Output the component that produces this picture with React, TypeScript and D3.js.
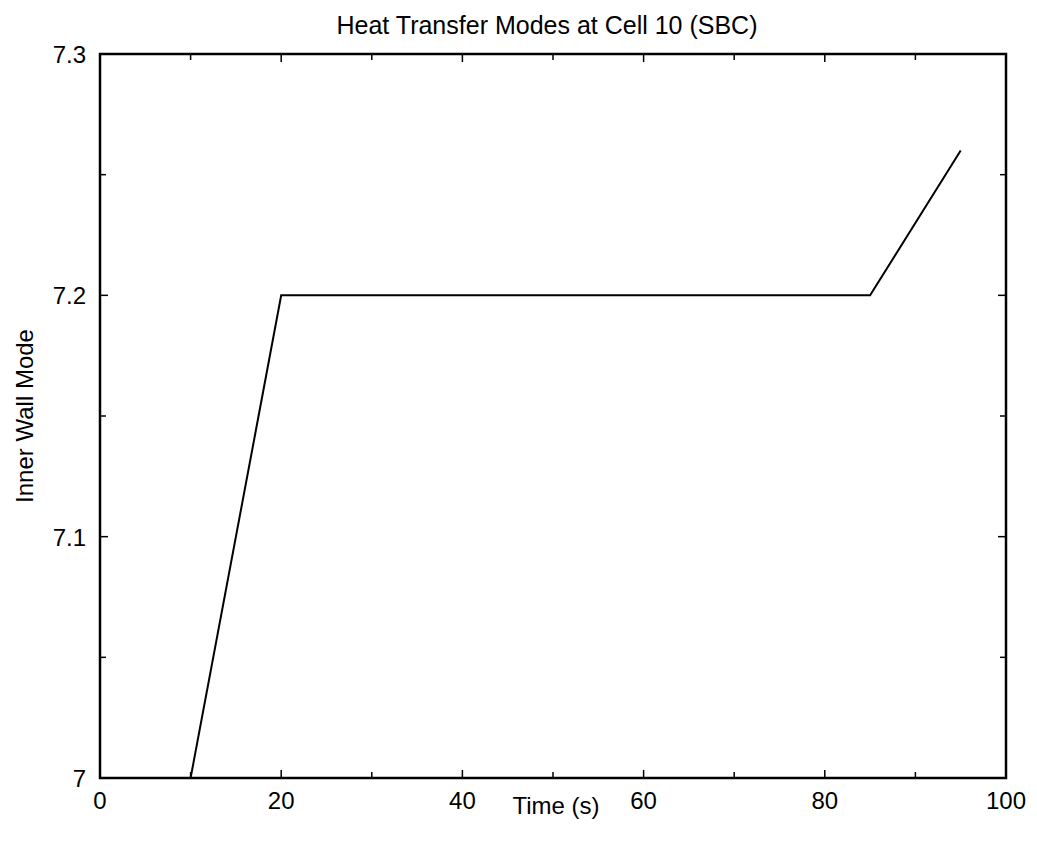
import React from "react";
import * as d3 from "d3";

const timeValues = [0, 10, 20, 85, 95];
const modeValues = [7, 7, 7.2, 7.2, 7.26];
const xMajorTicks = [0, 20, 40, 60, 80, 100];
const xMinorTicks = [10, 30, 50, 70, 90];
const yMajorTicks = [7, 7.1, 7.2, 7.3];
const yMinorTicks = [7.05, 7.15, 7.25];
const yTickLabels = ["7", "7.1", "7.2", "7.3"];
const title = "Heat Transfer Modes at Cell 10 (SBC)";
const xLabel = "Time (s)";
const yLabel = "Inner Wall Mode";

export default function App() {
  const W = 1037, H = 855;
  const L = 100, R = 1006, T = 54, B = 778;
  const x = d3.scaleLinear().domain([0, 100]).range([L, R]);
  const y = d3.scaleLinear().domain([7, 7.3]).range([B, T]);
  const pts = timeValues.map((t, i) => [t, modeValues[i]] as [number, number]);
  const line = d3.line<[number, number]>().x(d => x(d[0])).y(d => y(d[1]))(pts) || "";
  const font = "'Liberation Sans', Arial, sans-serif";
  const majLen = 8, minLen = 6;
  return (
    <svg width={W} height={H} style={{ position: "absolute", left: 0, top: 0, background: "#fff" }} fontFamily={font}>
      <rect x={0} y={0} width={W} height={H} fill="#fff" />
      <defs>
        <clipPath id="clip"><rect x={L} y={T} width={R - L} height={B - T} /></clipPath>
      </defs>
      <path d={line} fill="none" stroke="#000" strokeWidth={2} clipPath="url(#clip)" />
      {xMajorTicks.map(t => (
        <g key={"xm" + t}>
          <line x1={x(t)} x2={x(t)} y1={B} y2={B - majLen} stroke="#000" strokeWidth={1.5} />
          <line x1={x(t)} x2={x(t)} y1={T} y2={T + majLen} stroke="#000" strokeWidth={1.5} />
          <text x={x(t)} y={B + 31} fontSize={24} textAnchor="middle">{t}</text>
        </g>
      ))}
      {xMinorTicks.map(t => (
        <g key={"xn" + t}>
          <line x1={x(t)} x2={x(t)} y1={B} y2={B - minLen} stroke="#000" strokeWidth={1.5} />
          <line x1={x(t)} x2={x(t)} y1={T} y2={T + minLen} stroke="#000" strokeWidth={1.5} />
        </g>
      ))}
      {yMajorTicks.map((t, i) => (
        <g key={"ym" + t}>
          <line x1={L} x2={L + majLen} y1={y(t)} y2={y(t)} stroke="#000" strokeWidth={1.5} />
          <line x1={R} x2={R - majLen} y1={y(t)} y2={y(t)} stroke="#000" strokeWidth={1.5} />
          <text x={L - 14} y={y(t) + 9} fontSize={24} textAnchor="end">{yTickLabels[i]}</text>
        </g>
      ))}
      {yMinorTicks.map(t => (
        <g key={"yn" + t}>
          <line x1={L} x2={L + minLen} y1={y(t)} y2={y(t)} stroke="#000" strokeWidth={1.5} />
          <line x1={R} x2={R - minLen} y1={y(t)} y2={y(t)} stroke="#000" strokeWidth={1.5} />
        </g>
      ))}
      <rect x={L} y={T} width={R - L} height={B - T} fill="none" stroke="#000" strokeWidth={2.5} />
      <text x={547} y={34} fontSize={25} textAnchor="middle">{title}</text>
      <text x={(L + R) / 2 + 3} y={814} fontSize={24} textAnchor="middle">{xLabel}</text>
      <text transform={`translate(33,${(T + B) / 2}) rotate(-90)`} fontSize={24} textAnchor="middle">{yLabel}</text>
    </svg>
  );
}
